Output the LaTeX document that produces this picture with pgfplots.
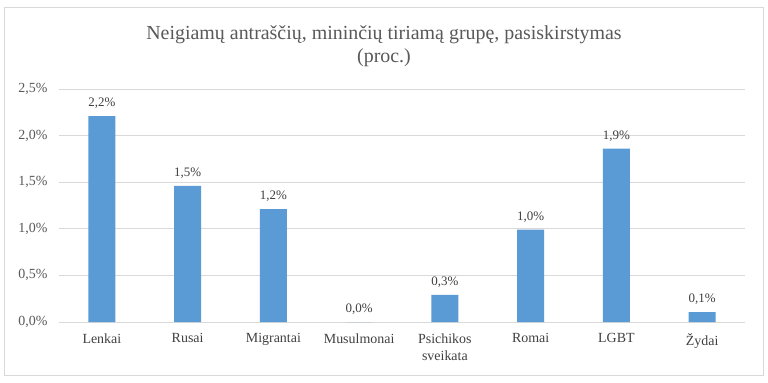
\documentclass[border=0pt]{standalone}
\usepackage{pgfplots}
\pgfplotsset{compat=1.18}
\usepackage{fontspec}
\setmainfont{Liberation Serif}
\definecolor{barblue}{HTML}{5B9BD5}
\definecolor{gridgray}{HTML}{D9D9D9}
\definecolor{txtgray}{HTML}{595959}
\definecolor{lblgray}{HTML}{404040}
\begin{document}
\begin{tikzpicture}[x=1bp,y=1bp]
\useasboundingbox (0,0) rectangle (768,382);
\fill[white] (0,0) rectangle (768,382);
\draw[gridgray, line width=0.8bp] (4,7) rectangle (763,375);
\node[align=center, text=txtgray, font=\fontsize{20}{23}\selectfont] at (384,336) {Neigiamų antraščių, mininčių tiriamą grupę, pasiskirstymas\\(proc.)};
\begin{axis}[
  at={(59bp,60bp)}, anchor=south west,
  width=686bp, height=233bp, scale only axis,
  xmin=-0.5, xmax=7.5, ymin=0, ymax=2.5,
  ybar, bar width=27bp,
  axis x line*=bottom, axis y line*=left,
  x axis line style={gridgray, line width=0.8bp, -},
  y axis line style={draw=none},
  ymajorgrids, grid style={gridgray, line width=0.8bp},
  ytick={0,0.5,1,1.5,2,2.5},
  yticklabels={{0,0\%},{0,5\%},{1,0\%},{1,5\%},{2,0\%},{2,5\%}},
  y tick label style={text=txtgray, font=\fontsize{14}{16}\selectfont, xshift=-8bp},
  xtick=data,
  xticklabels={Lenkai,Rusai,Migrantai,Musulmonai,{Psichikos\\sveikata},Romai,LGBT,Žydai},
  x tick label style={align=center, text=lblgray, font=\fontsize{14}{17}\selectfont, yshift=-8bp},
  major tick length=0pt,
  /pgf/number format/assume math mode=true,
  nodes near coords={\pgfmathprintnumber[fixed,fixed zerofill,precision=1,use comma]{\pgfplotspointmeta}\%},
  every node near coord/.append style={text=lblgray, font=\fontsize{13}{15}\selectfont, yshift=4bp},
  clip=false,
]
\addplot[fill=barblue, draw=none] coordinates {(0,2.21) (1,1.46) (2,1.21) (3,0) (4,0.29) (5,0.99) (6,1.86) (7,0.107)};
\end{axis}
\end{tikzpicture}
\end{document}
